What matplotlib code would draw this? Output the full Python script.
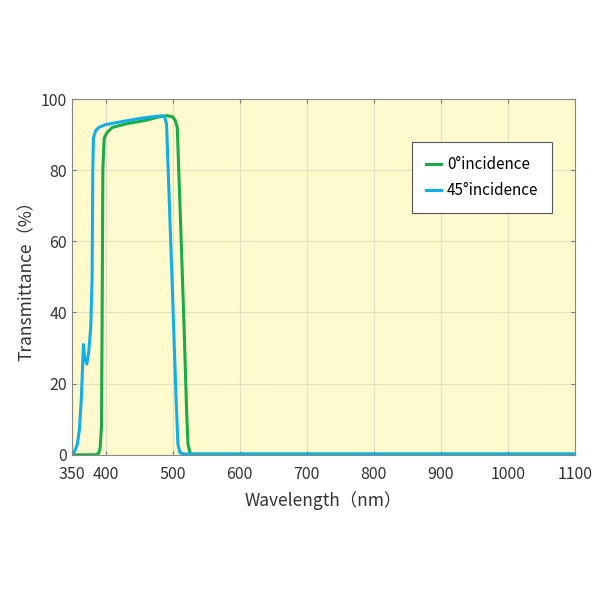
import matplotlib
matplotlib.use("Agg")
import matplotlib.pyplot as plt

plt.rcParams['font.family'] = ['Noto Sans CJK SC', 'DejaVu Sans']

# 0 degree incidence
wl_0 = [350, 370, 385, 390, 392, 394, 395, 396, 398, 402, 410, 430, 460, 480, 492, 500, 504, 507, 512, 517, 521, 523, 526, 530, 600, 800, 1100]
t_0 = [0, 0, 0, 0.5, 2, 8, 40, 80, 89, 90.5, 92, 93, 94, 95, 95.3, 95, 94, 92, 65, 37, 12, 3, 0.5, 0.2, 0.2, 0.2, 0.2]

# 45 degree incidence
wl_45 = [350, 354, 358, 361, 364, 367, 369, 372, 375, 378, 380, 381, 382, 385, 390, 400, 420, 450, 470, 483, 488, 491, 495, 500, 505, 508, 511, 515, 520, 600, 800, 1100]
t_45 = [0, 1, 3, 7, 16, 31, 27, 25.5, 29, 36, 50, 80, 89, 91, 92, 92.8, 93.5, 94.5, 95, 95.3, 95, 93, 72, 45, 17, 3, 0.6, 0.3, 0.2, 0.2, 0.2, 0.2]

x_ticks = [350, 400, 500, 600, 700, 800, 900, 1000, 1100]
y_ticks = [0, 20, 40, 60, 80, 100]

fig = plt.figure(figsize=(6, 6), dpi=100)
ax = fig.add_axes([0.12, 0.242, 0.838, 0.593])
ax.set_facecolor('#fffacd')

ax.plot(wl_0, t_0, color='#1aaa48', lw=2.2, label='0°incidence')
ax.plot(wl_45, t_45, color='#12aee8', lw=2.2, label='45°incidence')

ax.set_xlim(350, 1100)
ax.set_ylim(0, 100)
ax.set_xticks(x_ticks)
ax.set_yticks(y_ticks)
ax.grid(True, color='#e2dfc4', lw=0.8)
ax.set_axisbelow(True)
ax.tick_params(direction='in', length=3, colors='#777777', labelcolor='#333333',
               labelsize=11.5, top=True, right=True)
ax.tick_params(axis='x', pad=8)
for s in ax.spines.values():
    s.set_color('#888888')

ax.set_xlabel('Wavelength（nm）', fontsize=12.5, color='#333333', labelpad=6)
ax.set_ylabel('Transmittance（%）', fontsize=12.5, color='#333333', labelpad=4)

leg = ax.legend(loc='upper right', bbox_to_anchor=(0.97, 0.9), fontsize=11,
                fancybox=False, framealpha=1, edgecolor='#555555',
                handlelength=1.0, borderpad=0.9, labelspacing=0.6, handletextpad=0.4)
leg.get_frame().set_linewidth(0.8)

fig.savefig('out.png', dpi=100, facecolor='white')
